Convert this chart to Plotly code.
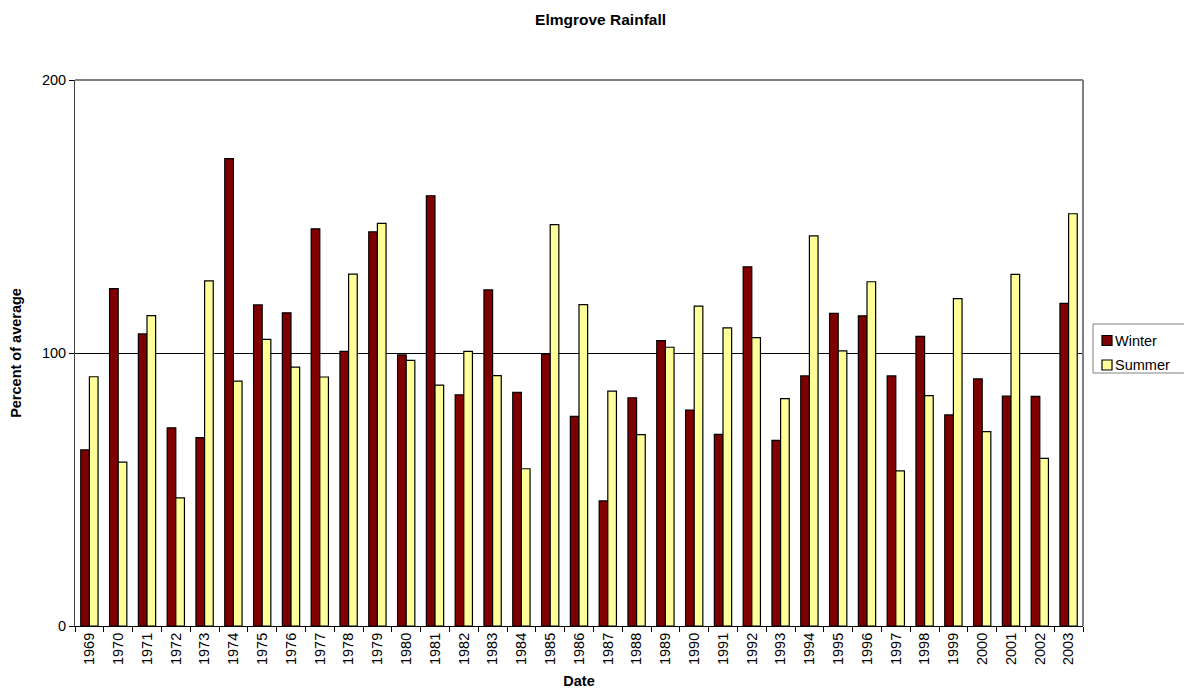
import plotly.graph_objects as go

years = [str(y) for y in range(1969, 2004)]
winter = [64.5, 123.6, 107.0, 72.6, 69.0, 171.2, 117.6, 114.7, 145.5, 100.6,
          144.4, 99.3, 157.6, 84.7, 123.1, 85.6, 99.6, 76.8, 45.8, 83.6,
          104.5, 79.1, 70.2, 131.6, 68.0, 91.6, 114.5, 113.6, 91.6, 106.1,
          77.3, 90.5, 84.2, 84.1, 118.2]
summer = [91.3, 60.0, 113.7, 46.9, 126.4, 89.7, 105.0, 94.8, 91.2, 128.9,
          147.5, 97.3, 88.2, 100.6, 91.7, 57.6, 147.0, 117.7, 86.0, 70.1,
          102.1, 117.2, 109.2, 105.6, 83.3, 142.9, 100.8, 126.1, 56.8, 84.4,
          119.9, 71.2, 128.8, 61.4, 151.0]
series_names = ["Winter", "Summer"]
series_colors = ["#800000", "#FFFF99"]

FONT = "Arial, Liberation Sans, sans-serif"

W, H = 1184, 690
ML, MR, MT, MB = 67, 109, 72, 72
PW, PH = W - ML - MR, H - MT - MB


def px_x(x):
    return (x - ML) / PW


def px_y(y):
    return 1 - (y - MT) / PH


fig = go.Figure()
for name, vals, col in zip(series_names, [winter, summer], series_colors):
    fig.add_trace(go.Bar(x=years, y=vals, name=name, showlegend=False,
                         marker=dict(color=col, line=dict(color="black", width=1.2))))

# page body adds an 8px offset, so the figure is 8px smaller and margins shifted
fig.update_layout(
    width=W, height=H,
    margin=dict(l=ML, r=MR, t=MT, b=MB, autoexpand=False),
    paper_bgcolor="white", plot_bgcolor="white",
    barmode="group", bargap=0.4, bargroupgap=0,
    font=dict(family=FONT, size=14.5, color="black"),
    title=dict(text="<b>Elmgrove Rainfall</b>", x=0.5005, xanchor="center",
               y=0.983, yanchor="middle", font=dict(family=FONT, size=15.5)),
    showlegend=False,
)
fig.update_xaxes(
    type="category", tickangle=-90, ticks="outside", ticklen=5,
    tickson="boundaries", tickcolor="black", automargin=False,
    showline=True, linecolor="black", linewidth=1, showgrid=False,
    title=dict(text="<b>Date</b>", font=dict(family=FONT, size=14.5), standoff=11),
    tickfont=dict(family=FONT, size=14.5),
)
fig.update_yaxes(
    range=[0, 200], tickvals=[0, 100, 200], ticks="outside", ticklen=5,
    tickcolor="black", showline=True, linecolor="#404040", linewidth=1,
    showgrid=True, gridcolor="black", gridwidth=1, zeroline=False, automargin=False,
    title=dict(text="<b>Percent of average</b>", font=dict(family=FONT, size=14.5), standoff=20),
    tickfont=dict(family=FONT, size=14.5),
)
# plot-area border (top and right) in gray
fig.add_shape(type="line", xref="paper", yref="paper", x0=0, x1=1, y0=1, y1=1,
              line=dict(color="#808080", width=2), layer="above")
fig.add_shape(type="line", xref="paper", yref="paper", x0=1, x1=1, y0=0, y1=1,
              line=dict(color="#808080", width=2), layer="above")

# legend box (Excel style)
fig.add_shape(type="rect", xref="paper", yref="paper",
              x0=px_x(1085), x1=px_x(1179), y0=px_y(316), y1=px_y(365),
              line=dict(color="#808080", width=1), fillcolor="white", layer="above")
for i, (name, col) in enumerate(zip(series_names, series_colors)):
    cy = 332.5 + i * 24.5
    fig.add_shape(type="rect", xref="paper", yref="paper",
                  x0=px_x(1094), x1=px_x(1104), y0=px_y(cy - 5), y1=px_y(cy + 5),
                  line=dict(color="black", width=1.2), fillcolor=col, layer="above")
    fig.add_annotation(text=name, xref="paper", yref="paper",
                       x=px_x(1105), y=px_y(cy), xanchor="left", yanchor="middle",
                       showarrow=False, font=dict(family=FONT, size=14.5))

fig.write_html("out.html")
